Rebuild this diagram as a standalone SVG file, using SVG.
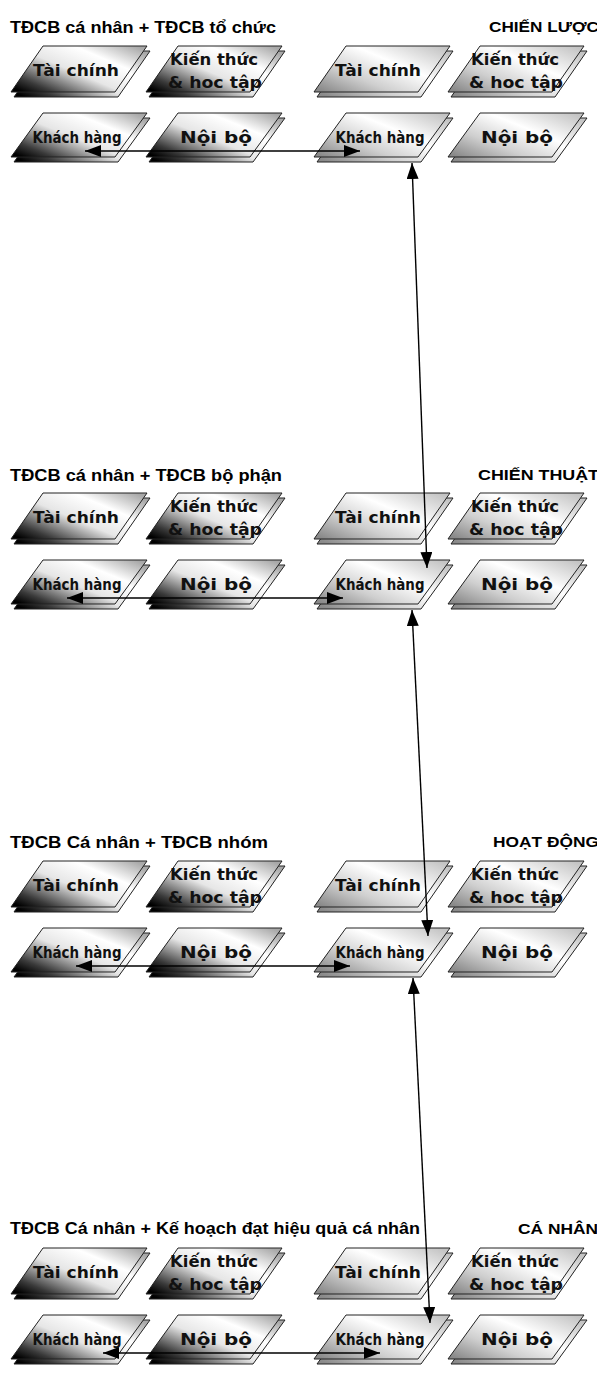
<svg xmlns="http://www.w3.org/2000/svg" xmlns:xlink="http://www.w3.org/1999/xlink" width="597" height="1373" viewBox="0 0 597 1373">
<style>
.ttl{font-family:"Liberation Sans",Arial,sans-serif;font-weight:bold;font-size:17px;fill:#000}
.lvl{font-family:"Liberation Sans",Arial,sans-serif;font-weight:bold;font-size:15px;fill:#000;text-anchor:end}
.nt{font-family:"DejaVu Sans","Liberation Sans",sans-serif;font-weight:bold;font-size:16px;fill:#111;text-anchor:middle}
.edge{stroke:#222;stroke-width:1}
.con{stroke:#000;stroke-width:1.4;fill:none;marker-start:url(#ah);marker-end:url(#ah)}
</style>
<defs>
<linearGradient id="gL" x1="0" y1="0.9" x2="1" y2="0.1">
<stop offset="0" stop-color="#000"/>
<stop offset="0.14" stop-color="#3a3a3a"/>
<stop offset="0.45" stop-color="#e6e6e6"/>
<stop offset="0.72" stop-color="#fff"/>
<stop offset="1" stop-color="#a8a8a8"/>
</linearGradient>
<linearGradient id="gR" x1="0" y1="0.9" x2="1" y2="0.1">
<stop offset="0" stop-color="#8a8a8a"/>
<stop offset="0.3" stop-color="#cfcfcf"/>
<stop offset="0.62" stop-color="#fff"/>
<stop offset="1" stop-color="#c4c4c4"/>
</linearGradient>
<path id="p1" d="M0,0 L104,0 L136,-46 L32,-46 Z"/>
<path id="p2" d="M0,0 L104,0 L136,-44 L32,-44 Z"/>
<g id="nodeL1"><use xlink:href="#p1" href="#p1" x="3" y="5" fill="url(#gL)" class="edge"/><use xlink:href="#p1" href="#p1" fill="url(#gL)" class="edge"/></g>
<g id="nodeL2"><use xlink:href="#p2" href="#p2" x="3" y="5" fill="url(#gL)" class="edge"/><use xlink:href="#p2" href="#p2" fill="url(#gL)" class="edge"/></g>
<g id="nodeR1"><use xlink:href="#p1" href="#p1" x="3" y="5" fill="url(#gR)" class="edge"/><use xlink:href="#p1" href="#p1" fill="url(#gR)" class="edge"/></g>
<g id="nodeR2"><use xlink:href="#p2" href="#p2" x="3" y="5" fill="url(#gR)" class="edge"/><use xlink:href="#p2" href="#p2" fill="url(#gR)" class="edge"/></g>
<marker id="ah" viewBox="0 0 16 12" refX="16" refY="6" markerWidth="16" markerHeight="12" orient="auto-start-reverse" markerUnits="userSpaceOnUse"><path d="M0,0 L16,6 L0,12 Z" fill="#000"/></marker>
</defs>

<!-- Section 1 -->
<g id="sec1">
<text class="ttl" x="10" y="33" textLength="266" lengthAdjust="spacingAndGlyphs">TĐCB cá nhân + TĐCB tổ chức</text>
<text class="lvl" x="599" y="32" textLength="110" lengthAdjust="spacingAndGlyphs">CHIẾN LƯỢC</text>
</g>
<g id="s1-l-taichinh" transform="translate(11,92)"><use href="#nodeL1" xlink:href="#nodeL1"/><text class="nt" x="65" y="-16" textLength="86" lengthAdjust="spacingAndGlyphs">Tài chính</text></g>
<g id="s1-l-kienthuc" transform="translate(146,92)"><use href="#nodeL1" xlink:href="#nodeL1"/><text class="nt" x="68" y="-27" textLength="88" lengthAdjust="spacingAndGlyphs">Kiến thức</text><text class="nt" x="69" y="-4" textLength="94" lengthAdjust="spacingAndGlyphs">&amp; hoc tập</text></g>
<g id="s1-l-khachhang" transform="translate(11,157)"><use href="#nodeL2" xlink:href="#nodeL2"/><text class="nt" x="66" y="-14" textLength="89" lengthAdjust="spacingAndGlyphs">Khách hàng</text></g>
<g id="s1-l-noibo" transform="translate(146,157)"><use href="#nodeL2" xlink:href="#nodeL2"/><text class="nt" x="70" y="-14" textLength="72" lengthAdjust="spacingAndGlyphs">Nội bộ</text></g>
<g id="s1-r-taichinh" transform="translate(314,92)"><use href="#nodeR1" xlink:href="#nodeR1"/><text class="nt" x="64" y="-16" textLength="86" lengthAdjust="spacingAndGlyphs">Tài chính</text></g>
<g id="s1-r-kienthuc" transform="translate(448,92)"><use href="#nodeR1" xlink:href="#nodeR1"/><text class="nt" x="67" y="-27" textLength="88" lengthAdjust="spacingAndGlyphs">Kiến thức</text><text class="nt" x="68" y="-4" textLength="94" lengthAdjust="spacingAndGlyphs">&amp; hoc tập</text></g>
<g id="s1-r-khachhang" transform="translate(314,157)"><use href="#nodeR2" xlink:href="#nodeR2"/><text class="nt" x="66" y="-14" textLength="89" lengthAdjust="spacingAndGlyphs">Khách hàng</text></g>
<g id="s1-r-noibo" transform="translate(448,157)"><use href="#nodeR2" xlink:href="#nodeR2"/><text class="nt" x="69" y="-14" textLength="72" lengthAdjust="spacingAndGlyphs">Nội bộ</text></g>

<!-- Section 2 -->
<g id="sec2">
<text class="ttl" x="10" y="481" textLength="272" lengthAdjust="spacingAndGlyphs">TĐCB cá nhân + TĐCB bộ phận</text>
<text class="lvl" x="599" y="480" textLength="121" lengthAdjust="spacingAndGlyphs">CHIẾN THUẬT</text>
</g>
<g id="s2-l-taichinh" transform="translate(11,539)"><use href="#nodeL1" xlink:href="#nodeL1"/><text class="nt" x="65" y="-16" textLength="86" lengthAdjust="spacingAndGlyphs">Tài chính</text></g>
<g id="s2-l-kienthuc" transform="translate(146,539)"><use href="#nodeL1" xlink:href="#nodeL1"/><text class="nt" x="68" y="-27" textLength="88" lengthAdjust="spacingAndGlyphs">Kiến thức</text><text class="nt" x="69" y="-4" textLength="94" lengthAdjust="spacingAndGlyphs">&amp; hoc tập</text></g>
<g id="s2-l-khachhang" transform="translate(11,604)"><use href="#nodeL2" xlink:href="#nodeL2"/><text class="nt" x="66" y="-14" textLength="89" lengthAdjust="spacingAndGlyphs">Khách hàng</text></g>
<g id="s2-l-noibo" transform="translate(146,604)"><use href="#nodeL2" xlink:href="#nodeL2"/><text class="nt" x="70" y="-14" textLength="72" lengthAdjust="spacingAndGlyphs">Nội bộ</text></g>
<g id="s2-r-taichinh" transform="translate(314,539)"><use href="#nodeR1" xlink:href="#nodeR1"/><text class="nt" x="64" y="-16" textLength="86" lengthAdjust="spacingAndGlyphs">Tài chính</text></g>
<g id="s2-r-kienthuc" transform="translate(448,539)"><use href="#nodeR1" xlink:href="#nodeR1"/><text class="nt" x="67" y="-27" textLength="88" lengthAdjust="spacingAndGlyphs">Kiến thức</text><text class="nt" x="68" y="-4" textLength="94" lengthAdjust="spacingAndGlyphs">&amp; hoc tập</text></g>
<g id="s2-r-khachhang" transform="translate(314,604)"><use href="#nodeR2" xlink:href="#nodeR2"/><text class="nt" x="66" y="-14" textLength="89" lengthAdjust="spacingAndGlyphs">Khách hàng</text></g>
<g id="s2-r-noibo" transform="translate(448,604)"><use href="#nodeR2" xlink:href="#nodeR2"/><text class="nt" x="69" y="-14" textLength="72" lengthAdjust="spacingAndGlyphs">Nội bộ</text></g>

<!-- Section 3 -->
<g id="sec3">
<text class="ttl" x="10" y="848" textLength="258" lengthAdjust="spacingAndGlyphs">TĐCB Cá nhân + TĐCB nhóm</text>
<text class="lvl" x="599" y="847" textLength="106" lengthAdjust="spacingAndGlyphs">HOẠT ĐỘNG</text>
</g>
<g id="s3-l-taichinh" transform="translate(11,907)"><use href="#nodeL1" xlink:href="#nodeL1"/><text class="nt" x="65" y="-16" textLength="86" lengthAdjust="spacingAndGlyphs">Tài chính</text></g>
<g id="s3-l-kienthuc" transform="translate(146,907)"><use href="#nodeL1" xlink:href="#nodeL1"/><text class="nt" x="68" y="-27" textLength="88" lengthAdjust="spacingAndGlyphs">Kiến thức</text><text class="nt" x="69" y="-4" textLength="94" lengthAdjust="spacingAndGlyphs">&amp; hoc tập</text></g>
<g id="s3-l-khachhang" transform="translate(11,972)"><use href="#nodeL2" xlink:href="#nodeL2"/><text class="nt" x="66" y="-14" textLength="89" lengthAdjust="spacingAndGlyphs">Khách hàng</text></g>
<g id="s3-l-noibo" transform="translate(146,972)"><use href="#nodeL2" xlink:href="#nodeL2"/><text class="nt" x="70" y="-14" textLength="72" lengthAdjust="spacingAndGlyphs">Nội bộ</text></g>
<g id="s3-r-taichinh" transform="translate(314,907)"><use href="#nodeR1" xlink:href="#nodeR1"/><text class="nt" x="64" y="-16" textLength="86" lengthAdjust="spacingAndGlyphs">Tài chính</text></g>
<g id="s3-r-kienthuc" transform="translate(448,907)"><use href="#nodeR1" xlink:href="#nodeR1"/><text class="nt" x="67" y="-27" textLength="88" lengthAdjust="spacingAndGlyphs">Kiến thức</text><text class="nt" x="68" y="-4" textLength="94" lengthAdjust="spacingAndGlyphs">&amp; hoc tập</text></g>
<g id="s3-r-khachhang" transform="translate(314,972)"><use href="#nodeR2" xlink:href="#nodeR2"/><text class="nt" x="66" y="-14" textLength="89" lengthAdjust="spacingAndGlyphs">Khách hàng</text></g>
<g id="s3-r-noibo" transform="translate(448,972)"><use href="#nodeR2" xlink:href="#nodeR2"/><text class="nt" x="69" y="-14" textLength="72" lengthAdjust="spacingAndGlyphs">Nội bộ</text></g>

<!-- Section 4 -->
<g id="sec4">
<text class="ttl" x="10" y="1234" textLength="410" lengthAdjust="spacingAndGlyphs">TĐCB Cá nhân + Kế hoạch đạt hiệu quả cá nhân</text>
<text class="lvl" x="598" y="1234" textLength="80" lengthAdjust="spacingAndGlyphs">CÁ NHÂN</text>
</g>
<g id="s4-l-taichinh" transform="translate(11,1294)"><use href="#nodeL1" xlink:href="#nodeL1"/><text class="nt" x="65" y="-16" textLength="86" lengthAdjust="spacingAndGlyphs">Tài chính</text></g>
<g id="s4-l-kienthuc" transform="translate(146,1294)"><use href="#nodeL1" xlink:href="#nodeL1"/><text class="nt" x="68" y="-27" textLength="88" lengthAdjust="spacingAndGlyphs">Kiến thức</text><text class="nt" x="69" y="-4" textLength="94" lengthAdjust="spacingAndGlyphs">&amp; hoc tập</text></g>
<g id="s4-l-khachhang" transform="translate(11,1359)"><use href="#nodeL2" xlink:href="#nodeL2"/><text class="nt" x="66" y="-14" textLength="89" lengthAdjust="spacingAndGlyphs">Khách hàng</text></g>
<g id="s4-l-noibo" transform="translate(146,1359)"><use href="#nodeL2" xlink:href="#nodeL2"/><text class="nt" x="70" y="-14" textLength="72" lengthAdjust="spacingAndGlyphs">Nội bộ</text></g>
<g id="s4-r-taichinh" transform="translate(314,1294)"><use href="#nodeR1" xlink:href="#nodeR1"/><text class="nt" x="64" y="-16" textLength="86" lengthAdjust="spacingAndGlyphs">Tài chính</text></g>
<g id="s4-r-kienthuc" transform="translate(448,1294)"><use href="#nodeR1" xlink:href="#nodeR1"/><text class="nt" x="67" y="-27" textLength="88" lengthAdjust="spacingAndGlyphs">Kiến thức</text><text class="nt" x="68" y="-4" textLength="94" lengthAdjust="spacingAndGlyphs">&amp; hoc tập</text></g>
<g id="s4-r-khachhang" transform="translate(314,1359)"><use href="#nodeR2" xlink:href="#nodeR2"/><text class="nt" x="66" y="-14" textLength="89" lengthAdjust="spacingAndGlyphs">Khách hàng</text></g>
<g id="s4-r-noibo" transform="translate(448,1359)"><use href="#nodeR2" xlink:href="#nodeR2"/><text class="nt" x="69" y="-14" textLength="72" lengthAdjust="spacingAndGlyphs">Nội bộ</text></g>

<g id="connectors">
<line class="con" x1="85" y1="151" x2="360" y2="151"/>
<line class="con" x1="67" y1="598" x2="343" y2="598"/>
<line class="con" x1="76" y1="966" x2="350" y2="966"/>
<line class="con" x1="103" y1="1353" x2="380" y2="1353"/>
<line class="con" x1="412" y1="163" x2="427" y2="568"/>
<line class="con" x1="412" y1="610" x2="428" y2="936"/>
<line class="con" x1="413" y1="978" x2="430" y2="1323"/>
</g>
</svg>
